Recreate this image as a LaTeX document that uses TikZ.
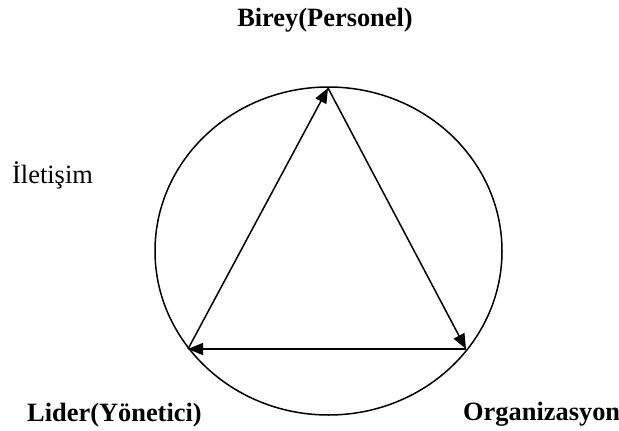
\documentclass[tikz,border=0pt]{standalone}
\usepackage{fontspec}
\setmainfont{Liberation Serif}
\usetikzlibrary{arrows.meta}
\tikzset{
  lbl/.style={inner sep=0pt, font=\fontsize{26.4}{30}\selectfont},
  blbl/.style={lbl, font=\fontsize{26.4}{30}\selectfont\bfseries},
  arr/.style={line width=1.5pt, -{Triangle[length=15pt,width=12pt]}},
  ring/.style={line width=1.5pt}
}
\begin{document}
\begin{tikzpicture}[x=1pt,y=-1pt]
\useasboundingbox (0,0) rectangle (619,431);
\coordinate (C) at (328.5,251);
\coordinate (T) at (328,88);
\coordinate (R) at (466,349);
\coordinate (L) at (188,349);
\draw[ring] (C) ellipse [x radius=173.5, y radius=164];
\draw[arr] (L) -- (T);
\draw[arr] (T) -- (R);
\draw[arr] (R) -- (L);
\node[blbl, anchor=base] (birey) at (325,27) {Birey(Personel)};
\node[lbl, anchor=base west] (iletisim) at (12,183) {İletişim};
\node[blbl, anchor=base west] (lider) at (27,421) {Lider(Yönetici)};
\node[blbl, anchor=base west] (org) at (463,420) {Organizasyon};
\end{tikzpicture}
\end{document}
